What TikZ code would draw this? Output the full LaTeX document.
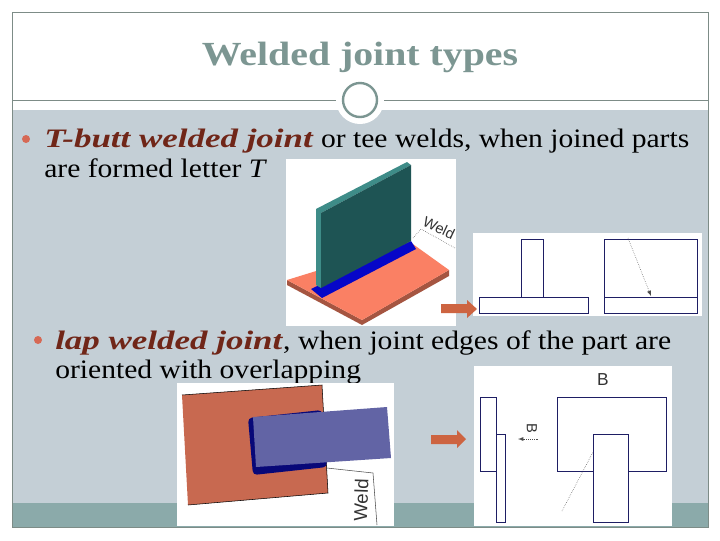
\documentclass[tikz,border=0pt]{standalone}
\usepackage{fontspec}
\setmainfont{Liberation Serif}[FakeStretch=1.11,BoldFeatures={FakeStretch=1.18},BoldItalicFeatures={FakeStretch=1.31}]
\newfontfamily\labelfont{Liberation Sans}
\usetikzlibrary{arrows,shapes,positioning}
\definecolor{slidegrey}{RGB}{196,207,214}
\definecolor{slideteal}{RGB}{139,170,170}
\definecolor{titlegrey}{RGB}{124,150,146}
\definecolor{framegrey}{RGB}{125,140,135}
\definecolor{bulletred}{RGB}{214,105,85}
\definecolor{termred}{RGB}{112,38,24}
\definecolor{plateorange}{RGB}{250,128,100}
\definecolor{plateedge}{RGB}{165,85,65}
\definecolor{wallgreen}{RGB}{30,84,84}
\definecolor{walledge}{RGB}{62,140,136}
\definecolor{weldblue}{RGB}{6,6,200}
\definecolor{lapred}{RGB}{200,105,80}
\definecolor{lapblue}{RGB}{98,100,165}
\definecolor{weldnavy}{RGB}{8,8,120}
\definecolor{arrowred}{RGB}{205,100,65}
\definecolor{sketchblue}{RGB}{30,30,100}
\tikzset{
  bodytext/.style={anchor=base west,inner sep=0pt,font=\fontsize{20}{22}\selectfont},
  bulletdot/.style={fill=bulletred,draw=none},
  sketch/.style={draw=sketchblue,line width=0.7pt},
  whitebox/.style={fill=white,draw=none},
  blockarrow/.style={fill=arrowred,draw=none},
  leader/.style={densely dotted,line width=0.4pt,draw=black!70},
  weldlabel/.style={inner sep=0pt,font=\labelfont\fontsize{11}{11}\selectfont,text=black!80}
}
\begin{document}
\begin{tikzpicture}[x=0.75pt,y=-0.75pt]
\useasboundingbox (0,0) rectangle (720,540);
\fill[white] (0,0) rectangle (720,540);
\fill[slidegrey] (12,110) rectangle (708,503);
\fill[slideteal] (12,503) rectangle (708,527);
\draw[framegrey,line width=0.6pt] (12,12) rectangle (708,527);
\draw[framegrey,line width=0.6pt] (12,100) -- (708,100);
\fill[white] (360,100) circle[radius=24];
\draw[titlegrey,line width=1.8pt] (360,100) circle[radius=17];
\node[font=\fontsize{25.3}{28}\selectfont\bfseries,text=titlegrey,inner sep=0pt] (title) at (360,57) {Welded joint types};

\fill[bulletdot] (26,139) circle[radius=4];
\node[bodytext] (tbutt) at (44,147) {\textcolor{termred}{\textbf{\textit{T-butt welded joint}}} or tee welds, when joined parts};
\node[bodytext] (tletter) at (44,177) {are formed letter \textit{T}};
\fill[bulletdot] (38,340) circle[radius=4];
\node[bodytext] (lap) at (55,349) {\textcolor{termred}{\textbf{\textit{lap welded joint}}}, when joint edges of the part are};
\node[bodytext] (overlap) at (55,378) {oriented with overlapping};

\fill[whitebox] (286,159) rectangle (456,326);
\fill[plateedge] (287,280) -- (287,285) -- (362,325) -- (449,276) -- (449,270) -- (362,320) -- cycle;
\fill[plateorange] (287,280) -- (410,242) -- (449,270) -- (362,320) -- cycle;
\fill[weldblue] (311,289) -- (322,298) -- (416,249) -- (411,241) -- cycle;
\fill[walledge] (316,209) -- (407,162) -- (411,165) -- (321,213) -- (321,288) -- (316,285) -- cycle;
\fill[wallgreen] (321,213) -- (411,165) -- (411,241) -- (321,288) -- cycle;
\node[weldlabel,rotate=-25] (weldtee) at (439,228) {Weld};
\draw[leader] (413,238) -- (421,229) -- (455,248);

\fill[whitebox] (473,233) rectangle (702,316);
\draw[sketch] (479,297) rectangle (588,313);
\draw[sketch] (521,297) rectangle (543,239);
\draw[sketch] (604,239) rectangle (697,313);
\draw[sketch] (604,297) -- (697,297);
\draw[leader,-latex] (628,238) -- (651,296);
\fill[blockarrow] (441,304) -- (467,304) -- (467,300) -- (477,309) -- (467,318) -- (467,313) -- (441,313) -- cycle;

\fill[whitebox] (177,383) rectangle (394,526);
\fill[lapred] (182,395) -- (322,385) -- (328,493) -- (188,505) -- cycle;
\draw[black,line width=0.4pt] (182,395) -- (322,385) -- (328,493) -- (188,505);
\fill[weldnavy,rounded corners=3pt] (248,418) -- (322,410) -- (327,467) -- (253,475) -- cycle;
\fill[lapblue] (253,417) -- (387,407) -- (391,458) -- (256,467) -- cycle;
\draw[black!70,line width=0.4pt] (327,468) -- (373,473) -- (377,525);
\node[weldlabel,rotate=88,font=\labelfont\fontsize{14}{14}\selectfont] (weldlap) at (361,500) {Weld};

\fill[whitebox] (474,366) rectangle (672,526);
\draw[sketch] (480,397) rectangle (496,471);
\draw[sketch] (496,434) rectangle (505,522);
\draw[sketch] (593,471) -- (557,471) -- (557,397) -- (666,397) -- (666,471) -- (628,471);
\draw[sketch] (593,434) rectangle (628,522);
\node[weldlabel,font=\labelfont\fontsize{13}{13}\selectfont] (bartop) at (603,380) {B};
\node[weldlabel,rotate=-90] (barside) at (532,428) {B};
\draw[leader,-latex] (538,439) -- (518,439);
\draw[leader] (562,511) -- (593,452);
\fill[blockarrow] (431,435) -- (457,435) -- (457,430) -- (466,439) -- (457,448) -- (457,444) -- (431,444) -- cycle;
\end{tikzpicture}
\end{document}
